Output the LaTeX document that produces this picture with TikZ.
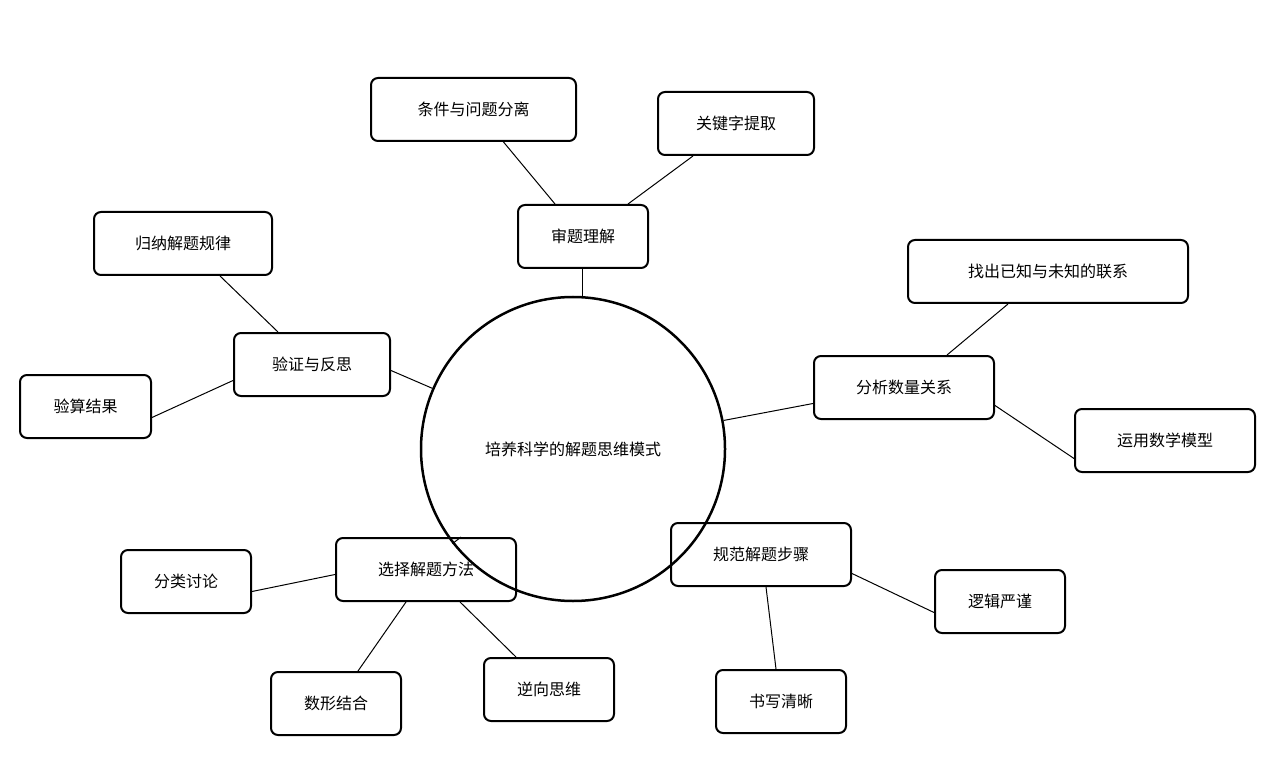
\documentclass[tikz,border=0pt]{standalone}
\usepackage{fontspec}
\setmainfont{Noto Sans CJK SC}
\usetikzlibrary{calc}
\begin{document}
\begin{tikzpicture}[x=1pt,y=-1pt,
  bx/.style={draw,line width=2pt,rounded corners=7pt,font=\fontsize{16}{18}\selectfont,inner sep=0pt},
  ln/.style={line width=1pt}]
\useasboundingbox (0,0) rectangle (1284,775);
\fill[white] (0,0) rectangle (1284,775);
\newcommand\bxn[6]{\node[bx,minimum width=#4-#2,minimum height=#5-#3] (#1) at ({(#2+#4)/2},{(#3+#5)/2}) {#6};}
\node[draw,circle,line width=2.5pt,minimum size=304pt,font=\fontsize{16}{18}\selectfont] (c) at (573,449) {培养科学的解题思维模式};
\bxn{a}{518}{205}{648}{268}{审题理解}
\bxn{a1}{371}{78}{576}{141}{条件与问题分离}
\bxn{a2}{658}{92}{814}{155}{关键字提取}
\bxn{b}{234}{333}{390}{396}{验证与反思}
\bxn{b1}{94}{212}{272}{275}{归纳解题规律}
\bxn{b2}{20}{375}{151}{438}{验算结果}
\bxn{d}{814}{356}{994}{419}{分析数量关系}
\bxn{d1}{908}{240}{1188}{303}{找出已知与未知的联系}
\bxn{d2}{1075}{409}{1255}{472}{运用数学模型}
\bxn{e}{671}{523}{851}{586}{规范解题步骤}
\bxn{e1}{935}{570}{1065}{633}{逻辑严谨}
\bxn{e2}{716}{670}{846}{733}{书写清晰}
\bxn{f}{336}{538}{516}{601}{选择解题方法}
\bxn{f1}{121}{550}{251}{613}{分类讨论}
\bxn{f2}{271}{672}{401}{735}{数形结合}
\bxn{f3}{484}{658}{614}{721}{逆向思维}
\draw[ln] ([xshift=-1pt]a.south) -- ([xshift=9pt]c.north);
\draw[ln] ([yshift=-6pt]b.east) -- (c);
\draw[ln] ([yshift=-16pt]d.west) -- (c);
\draw[ln] ([xshift=35pt]f.north) -- (c);
\draw[ln] ([xshift=30pt]a1.south) -- ([xshift=-28pt]a.north);
\draw[ln] ([xshift=-43pt]a2.south) -- ([xshift=45pt]a.north);
\draw[ln] ([xshift=37pt]b1.south) -- ([xshift=-34pt]b.north);
\draw[ln] ([yshift=-11pt]b2.east) -- ([yshift=-16pt]b.west);
\draw[ln] ([xshift=-40pt]d1.south) -- ([xshift=43pt]d.north);
\draw[ln] ([yshift=-18pt]d.east) -- ([yshift=-18pt]d2.west);
\draw[ln] ([yshift=-19pt]e.east) -- ([yshift=-11pt]e1.west);
\draw[ln] ([xshift=5pt]e.south) -- ([xshift=-5pt]e2.north);
\draw[ln] ([yshift=-10pt]f1.east) -- ([yshift=-5pt]f.west);
\draw[ln] ([xshift=-20pt]f.south) -- ([xshift=22pt]f2.north);
\draw[ln] ([xshift=34pt]f.south) -- ([xshift=-33pt]f3.north);
\end{tikzpicture}
\end{document}
